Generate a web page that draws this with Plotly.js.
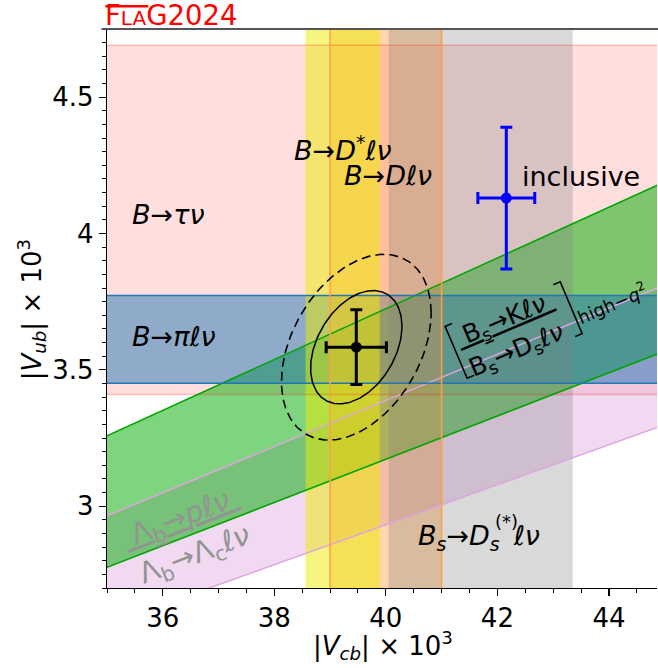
<!DOCTYPE html>
<html><head><meta charset="utf-8">
<script src="https://cdn.plot.ly/plotly-3.0.1.min.js"></script>
<style>html,body{margin:0;padding:0;overflow:hidden;background:#fff}</style>
</head><body><div id="chart" style="width:658px;height:668px"></div>
<script>
// ---------------- data ----------------
const xRange = [35, 44.862];
const yRange = [2.7, 4.75];
const xTickVals = [36, 38, 40, 42, 44];
const xTickText = ['36', '38', '40', '42', '44'];
const yTickVals = [3, 3.5, 4, 4.5];
const yTickText = ['3', '3.5', '4', '4.5'];

// |Vcb| determinations (vertical bands)
const vcbLabels = ['B→D*ℓν', 'B→Dℓν', 'Bs→Ds(*)ℓν'];
const vcbCentral = [39.225, 40.0, 41.7];
const vcbError = [0.665, 1.0, 1.65];

// |Vub| determinations (horizontal bands)
const vubLabels = ['B→τν', 'B→πℓν'];
const vubCentral = [4.05, 3.612];
const vubError = [0.64, 0.161];

// |Vub/Vcb| ratio determinations (bands through origin)
const ratioLabels = ['[Bs→Kℓν / Bs→Dsℓν] high-q2', 'Λb→pℓν / Λb→Λcℓν'];
const ratioCentral = [0.0862, 0.0790];
const ratioError = [0.0069, 0.0057];

// inclusive
const inclVcb = [42.16], inclVcbErr = [0.51];
const inclVub = [4.13], inclVubErr = [0.26];

// combined fit
const fitVcb = [39.47], fitVcbErr = [0.54];
const fitVub = [3.583], fitVubErr = [0.137];
const fitCorr = [0.37];
const chi2Levels = [2.3, 6.18];

// ---------------- styles ----------------
const FONT = 'DejaVu Sans';
const traces = [];

function hFill(i, color) {
  const lo = vubCentral[i] - vubError[i], hi = vubCentral[i] + vubError[i];
  return {type: 'scatter', mode: 'lines', fill: 'toself', fillcolor: color, line: {width: 0},
    x: [xRange[0], xRange[1], xRange[1], xRange[0], xRange[0]], y: [lo, lo, hi, hi, lo], hoverinfo: 'skip'};
}
function hEdges(i, color) {
  const lo = vubCentral[i] - vubError[i], hi = vubCentral[i] + vubError[i];
  return {type: 'scatter', mode: 'lines', line: {color: color, width: 1.5},
    x: [xRange[0], xRange[1], null, xRange[0], xRange[1]], y: [lo, lo, null, hi, hi], hoverinfo: 'skip'};
}
function vFill(i, color) {
  const lo = vcbCentral[i] - vcbError[i], hi = vcbCentral[i] + vcbError[i];
  return {type: 'scatter', mode: 'lines', fill: 'toself', fillcolor: color, line: {width: 0},
    x: [lo, hi, hi, lo, lo], y: [yRange[0], yRange[0], yRange[1], yRange[1], yRange[0]], hoverinfo: 'skip'};
}
function vEdges(i, color) {
  const lo = vcbCentral[i] - vcbError[i], hi = vcbCentral[i] + vcbError[i];
  return {type: 'scatter', mode: 'lines', line: {color: color, width: 1.5},
    x: [lo, lo, null, hi, hi], y: [yRange[0], yRange[1], null, yRange[0], yRange[1]], hoverinfo: 'skip'};
}
function rFill(i, color) {
  const lo = ratioCentral[i] - ratioError[i], hi = ratioCentral[i] + ratioError[i];
  const a = xRange[0], b = xRange[1] + 0.2;
  return {type: 'scatter', mode: 'lines', fill: 'toself', fillcolor: color, line: {width: 0},
    x: [a, b, b, a, a], y: [lo * a, lo * b, hi * b, hi * a, lo * a], hoverinfo: 'skip'};
}
function rEdges(i, color) {
  const lo = ratioCentral[i] - ratioError[i], hi = ratioCentral[i] + ratioError[i];
  const a = xRange[0], b = xRange[1] + 0.2;
  return {type: 'scatter', mode: 'lines', line: {color: color, width: 1.5},
    x: [a, b, null, a, b], y: [lo * a, lo * b, null, hi * a, hi * b], hoverinfo: 'skip'};
}

// fills (bottom to top)
traces.push(hFill(0, 'rgba(255,0,0,0.13)'));
traces.push(rFill(1, 'rgba(221,160,221,0.40)'));
traces.push(rFill(0, 'rgba(0,170,0,0.50)'));
traces.push(hFill(1, 'rgba(31,119,180,0.50)'));
traces.push(vFill(1, 'rgba(255,150,50,0.40)'));
traces.push(vFill(0, 'rgba(235,235,0,0.50)'));
traces.push(vFill(2, 'rgba(128,128,128,0.30)'));
// edges
traces.push(hEdges(0, 'rgba(255,0,0,0.22)'));
traces.push(rEdges(1, 'rgb(221,165,221)'));
traces.push(rEdges(0, 'rgb(0,165,0)'));
traces.push(hEdges(1, 'rgb(31,119,180)'));
traces.push(vEdges(1, 'rgb(255,160,70)'));

// fit ellipses
function ellipse(k) {
  const xs = [], ys = [];
  const sx = fitVcbErr[0], sy = fitVubErr[0], r = fitCorr[0];
  for (let j = 0; j <= 240; j++) {
    const t = 2 * Math.PI * j / 240;
    xs.push(fitVcb[0] + Math.sqrt(k) * sx * Math.cos(t));
    ys.push(fitVub[0] + Math.sqrt(k) * sy * (r * Math.cos(t) + Math.sqrt(1 - r * r) * Math.sin(t)));
  }
  return {xs, ys};
}
const e1 = ellipse(chi2Levels[0]);
const e2 = ellipse(chi2Levels[1]);
traces.push({type: 'scatter', mode: 'lines', x: e1.xs, y: e1.ys, line: {color: 'black', width: 1.5}, hoverinfo: 'skip'});
traces.push({type: 'scatter', mode: 'lines', x: e2.xs, y: e2.ys, line: {color: 'black', width: 1.6, dash: '9px,5px'}, hoverinfo: 'skip'});

// points
traces.push({type: 'scatter', mode: 'markers', x: fitVcb, y: fitVub,
  marker: {color: 'black', size: 11},
  error_x: {type: 'data', array: fitVcbErr, color: 'black', thickness: 3, width: 6},
  error_y: {type: 'data', array: fitVubErr, color: 'black', thickness: 3, width: 6}});
traces.push({type: 'scatter', mode: 'markers', x: inclVcb, y: inclVub,
  marker: {color: 'rgb(0,0,255)', size: 11},
  error_x: {type: 'data', array: inclVcbErr, color: 'rgb(0,0,255)', thickness: 3, width: 6},
  error_y: {type: 'data', array: inclVubErr, color: 'rgb(0,0,255)', thickness: 3, width: 6}});

// ---------------- annotations ----------------
function ann(x, y, text, opts) {
  return Object.assign({x: x, y: y, xref: 'x', yref: 'y', text: text, showarrow: false,
    font: {family: FONT, size: 27, color: 'black'}, xanchor: 'left', yanchor: 'middle'}, opts || {});
}
const GREEN_ANG = -23, LAMBDA_ANG = -21;
const BRACKET_FONT = {family: 'Roboto, DejaVu Sans', size: 60, color: 'black', weight: 100};
const LAMBDA_FONT = {family: FONT, size: 29, color: '#939393'};
const annotations = [
  ann(35.407, 4.069, '<i>B</i>→<i>τν</i>'),
  ann(35.407, 3.623, '<i>B</i>→<i>πℓν</i>'),
  ann(38.326, 4.311, '<i>B</i>→<i>D</i><sup>*</sup><i>ℓν</i>'),
  ann(39.208, 4.212, '<i>B</i>→<i>Dℓν</i>'),
  ann(42.40, 4.208, 'inclusive'),
  ann(40.548, 2.887, '<i>B<sub>s</sub></i>→<i>D<sub>s</sub></i>&nbsp;&#8201;<i>ℓν</i>'),
  ann(42.16, 2.943, '(*)', {xanchor: 'center', font: {family: FONT, size: 18, color: 'black'}}),
  // ratio Bs label
  ann(41.270, 3.5656, '[', {xanchor: 'center', textangle: GREEN_ANG, font: BRACKET_FONT}),
  ann(42.144, 3.6814, '<u>&nbsp;B<sub>s</sub>→K<i>ℓν</i>&nbsp;</u>', {xanchor: 'center', textangle: GREEN_ANG, font: {family: FONT, size: 25, color: 'black'}}),
  ann(42.352, 3.5678, 'B<sub>s</sub>→D<sub>s</sub><i>ℓν</i>', {xanchor: 'center', textangle: GREEN_ANG, font: {family: FONT, size: 25, color: 'black'}}),
  ann(43.297, 3.7269, ']', {xanchor: 'center', textangle: GREEN_ANG, font: BRACKET_FONT}),
  ann(44.06, 3.745, 'high−<i>q</i><sup>2</sup>', {xanchor: 'center', textangle: GREEN_ANG, font: {family: FONT, size: 18, color: 'black'}}),
  // Lambda_b label
  ann(36.33, 2.952, '<u>&nbsp;Λ<sub>b</sub>→<i>pℓν</i>&nbsp;</u>', {xanchor: 'center', textangle: LAMBDA_ANG, font: LAMBDA_FONT}),
  ann(36.57, 2.818, 'Λ<sub>b</sub>→Λ<sub>c</sub><i>ℓν</i>', {xanchor: 'center', textangle: LAMBDA_ANG, font: LAMBDA_FONT}),
  // axis titles
  {xref: 'paper', yref: 'paper', x: 0.502, y: -0.103, showarrow: false, xanchor: 'center', yanchor: 'middle',
    text: '|<i>V<sub>cb</sub></i>| × 10<sup>3</sup>', font: {family: FONT, size: 26, color: 'black'}},
  {xref: 'paper', yref: 'paper', x: -0.138, y: 0.497, showarrow: false, xanchor: 'center', yanchor: 'middle', textangle: -90,
    text: '|<i>V<sub>ub</sub></i>| × 10<sup>3</sup>', font: {family: FONT, size: 26, color: 'black'}},
  // FLAG title
  {xref: 'paper', yref: 'paper', x: -0.008, y: 1.0255, showarrow: false, xanchor: 'left', yanchor: 'middle',
    text: 'F<span style="font-size:20px">LA</span>G2024', font: {family: FONT, size: 27.5, color: 'red'}}
];

const axisCommon = {
  showgrid: false, zeroline: false, showline: true, linecolor: 'black', linewidth: 1.2,
  ticks: 'outside', ticklen: 7, tickwidth: 1.2, tickcolor: 'black', automargin: false,
  tickfont: {family: FONT, size: 26, color: 'black'}, tickmode: 'array'
};

const layout = {
  width: 658, height: 668,
  margin: {l: 107, r: 1, t: 29, b: 80},
  paper_bgcolor: 'white', plot_bgcolor: 'white', showlegend: false,
  xaxis: Object.assign({}, axisCommon, {range: xRange, tickvals: xTickVals, ticktext: xTickText,
    minor: {tick0: 35, dtick: 0.5, ticks: 'outside', ticklen: 4, tickwidth: 1, tickcolor: 'black', showgrid: false}}),
  yaxis: Object.assign({}, axisCommon, {range: yRange, tickvals: yTickVals, ticktext: yTickText,
    minor: {tick0: 0, dtick: 0.05, ticks: 'outside', ticklen: 4, tickwidth: 1, tickcolor: 'black', showgrid: false}}),
  annotations: annotations,
  shapes: [
    {type: 'line', xref: 'paper', yref: 'paper', x0: -0.01, x1: 1.01, y0: 1, y1: 1, line: {color: '#555', width: 2}},
    {type: 'line', xref: 'paper', yref: 'paper', x0: -0.003, x1: 0.075, y0: 1.0405, y1: 1.0405, line: {color: 'red', width: 2.5}}
  ]
};

Plotly.newPlot('chart', traces, layout, {staticPlot: true, displayModeBar: false});
</script>
</body></html>
